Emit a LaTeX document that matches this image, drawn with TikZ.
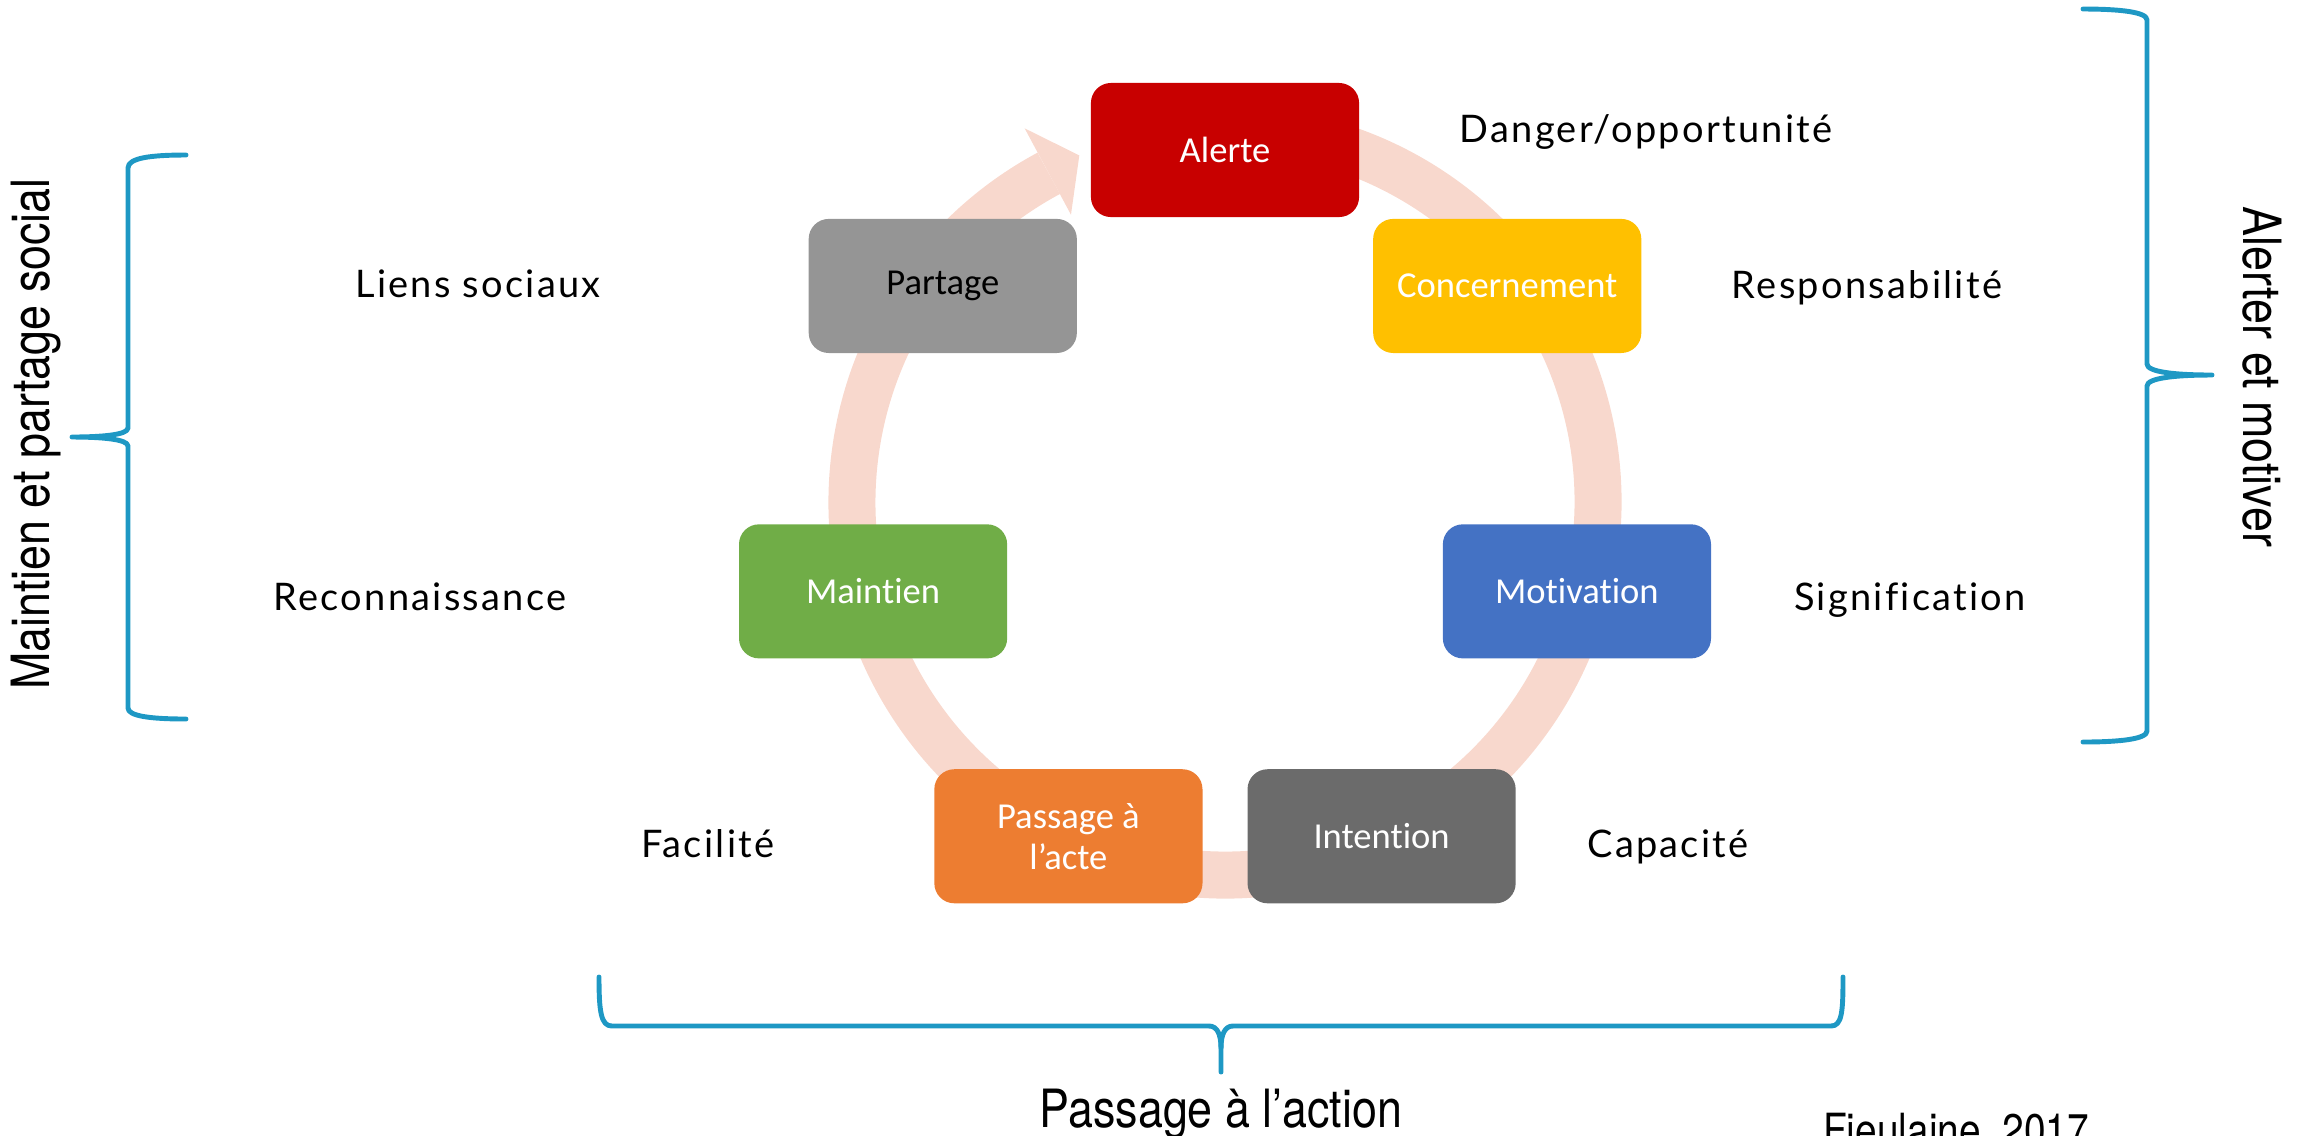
\documentclass[tikz,border=0pt]{standalone}
\usepackage{fontspec}
\usetikzlibrary{calc}
\newfontfamily\lblfont{Lato}[LetterSpace=6, Ligatures=NoCommon]
\newfontfamily\boxfont{Carlito}[Ligatures=NoCommon]
\newfontfamily\condfont{TeX Gyre Heros}[FakeStretch=0.85]
\definecolor{cAlerte}{RGB}{200,0,0}
\definecolor{cConc}{RGB}{255,192,0}
\definecolor{cMotiv}{RGB}{68,114,196}
\definecolor{cInt}{RGB}{107,107,107}
\definecolor{cPass}{RGB}{237,125,49}
\definecolor{cMaint}{RGB}{112,173,71}
\definecolor{cPart}{RGB}{149,149,149}
\definecolor{ringcol}{RGB}{248,216,205}
\definecolor{bracecol}{RGB}{30,152,196}
\tikzset{
  box/.style={rounded corners=0.2cm, minimum width=2.68cm, minimum height=1.34cm,
    inner sep=0pt, text=white, align=center,
    font=\boxfont\fontsize{10.4}{11.6}\selectfont},
  lbl/.style={anchor=base, inner sep=0pt, font=\lblfont\fontsize{10.8}{13}\selectfont},
  cond/.style={inner sep=0pt, font=\condfont\fontsize{15}{18}\selectfont},
  ring/.style={draw=ringcol, line width=0.47cm},
  brace/.style={draw=bracecol, line width=1.4pt, line cap=round, line join=round}
}
\begin{document}
\begin{tikzpicture}[x=0.01cm, y=0.01cm]
\useasboundingbox (0,0) rectangle (2303,-1135);
\coordinate (nodec) at (1225,-511);
\coordinate (ringc) at (1225,-502);
% ring
\draw[ring] ($(ringc)+(80:373)$) arc[start angle=80, end angle=-241.8, radius=373];
\fill[ringcol] ($(ringc)+(112.8:376)$) -- ($(ringc)+(118.2:424)$) -- ($(ringc)+(118.2:326)$) -- cycle;
% boxes
\node[box, fill=cAlerte] (alerte) at ($(nodec)+(90:361)$) {Alerte};
\node[box, fill=cConc] (conc) at ($(nodec)+(38.57:361)$) {Concernement};
\node[box, fill=cMotiv] (motiv) at ($(nodec)+(-12.86:361)$) {Motivation};
\node[box, fill=cInt] (inten) at ($(nodec)+(-64.29:361)$) {Intention};
\node[box, fill=cPass] (pass) at ($(nodec)+(-115.71:361)$) {Passage à\\l’acte};
\node[box, fill=cMaint] (maint) at ($(nodec)+(-167.14:361)$) {Maintien};
\node[box, fill=cPart, text=black] (part) at ($(nodec)+(141.43:361)$) {Partage};
% labels
\node[lbl] (danger) at (1646,-142) {Danger/opportunité};
\node[lbl] (resp) at (1867,-298) {Responsabilité};
\node[lbl] (sign) at (1910,-610) {Signification};
\node[lbl] (capa) at (1668,-857) {Capacité};
\node[lbl] (faci) at (708,-857) {Facilité};
\node[lbl] (reco) at (420,-610) {Reconnaissance};
\node[lbl] (liens) at (478,-297) {Liens sociaux};
% braces
\draw[brace] (186,-155) .. controls (150,-155) and (128,-158) .. (128,-168) -- (128,-428)
  .. controls (128,-435) and (100,-437) .. (72,-437)
  .. controls (100,-437) and (128,-439) .. (128,-446) -- (128,-708)
  .. controls (128,-716) and (150,-719) .. (186,-719);
\draw[brace] (2083,-9) .. controls (2120,-9) and (2147,-12) .. (2147,-20) -- (2147,-364)
  .. controls (2147,-372) and (2175,-375) .. (2212,-375)
  .. controls (2175,-375) and (2147,-378) .. (2147,-386) -- (2147,-731)
  .. controls (2147,-739) and (2120,-742) .. (2083,-742);
\draw[brace] (599,-977) .. controls (599,-1012) and (601,-1026) .. (612,-1026) -- (1209,-1026)
  .. controls (1217,-1026) and (1221,-1034) .. (1221,-1048) -- (1221,-1072);
\draw[brace] (1221,-1048) .. controls (1221,-1034) and (1225,-1026) .. (1233,-1026) -- (1831,-1026)
  .. controls (1842,-1026) and (1843,-1012) .. (1843,-977);
% group titles
\node[cond, anchor=base, rotate=90] (tleft) at (50,-434) {Maintien et partage social};
\node[cond, anchor=base, rotate=-90] (tright) at (2243,-377) {Alerter et motiver};
\node[cond, anchor=base] (tbottom) at (1221,-1127) {Passage à l’action};
\node[cond, anchor=base, font=\condfont\fontsize{13}{16}\selectfont] (cite) at (1956,-1146) {Fieulaine, 2017};
\end{tikzpicture}
\end{document}
